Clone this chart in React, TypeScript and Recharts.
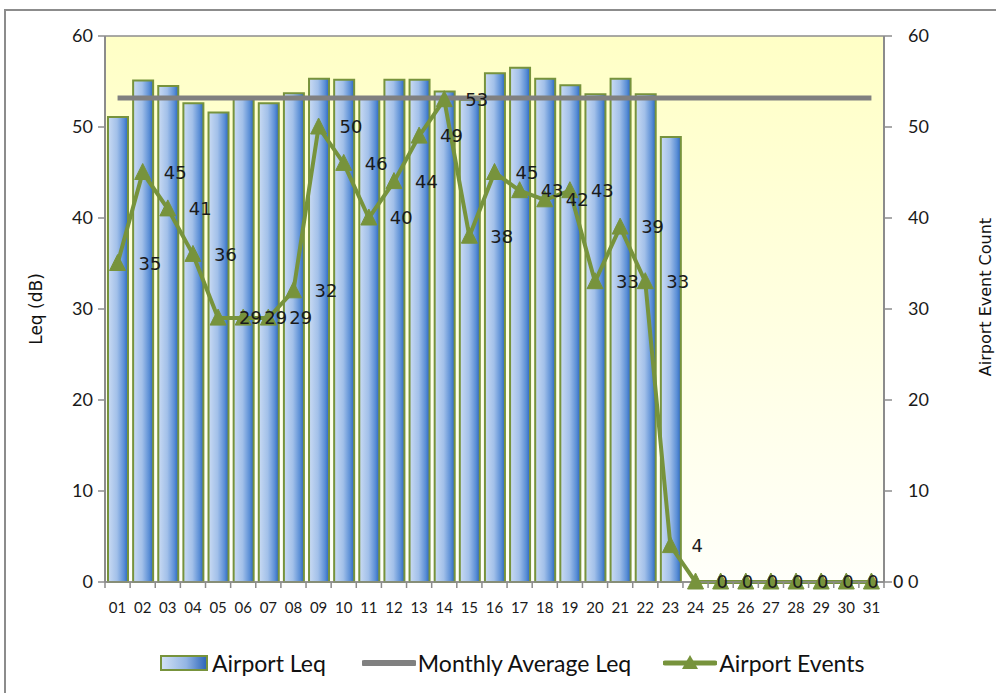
import React from 'react'
import { Bar, CartesianGrid, ComposedChart, LabelList, Line, XAxis, YAxis } from 'recharts'

const days = [
  '01', '02', '03', '04', '05', '06', '07', '08', '09', '10', '11', '12', '13', '14', '15', '16',
  '17', '18', '19', '20', '21', '22', '23', '24', '25', '26', '27', '28', '29', '30', '31',
]
const airportLeq: (number | null)[] = [
  51.1, 55.1, 54.5, 52.6, 51.6, 53.3, 52.6, 53.7, 55.3, 55.2, 53.1, 55.2, 55.2, 53.9, 53.0, 55.9,
  56.5, 55.3, 54.6, 53.6, 55.3, 53.6, 48.9, null, null, null, null, null, null, null, null,
]
const airportEvents = [
  35, 45, 41, 36, 29, 29, 29, 32, 50, 46, 40, 44, 49, 53, 38, 45, 43, 42, 43, 33, 39, 33, 4,
  0, 0, 0, 0, 0, 0, 0, 0,
]
const monthlyAverageLeq = 53.2
const axisTicks = [0, 10, 20, 30, 40, 50, 60]

const rows = days.map((day, i) => ({
  day,
  leq: airportLeq[i],
  avg: monthlyAverageLeq,
  events: airportEvents[i],
}))

const GREEN = '#77933C'
const GREY = '#8c8c8c'
const calibriLike = 'Lato, "Open Sans", sans-serif'
const verdanaLike = '"DejaVu Sans", Verdana, sans-serif'

const Triangle = (props: any) => {
  const { cx, cy, index } = props
  if (cx == null || cy == null) return <g key={index} />
  return (
    <polygon
      key={index}
      points={`${cx},${cy - 9} ${cx - 8},${cy + 7} ${cx + 8},${cy + 7}`}
      fill={GREEN}
      stroke={GREEN}
      strokeWidth={1}
    />
  )
}

const DayTick = (props: any) => {
  const { x, payload, index } = props
  const half = 779 / 31 / 2
  return (
    <g>
      <line x1={x - half} x2={x - half} y1={582} y2={588} stroke={GREY} strokeWidth={1.5} />
      {index === days.length - 1 && (
        <line x1={x + half} x2={x + half} y1={582} y2={588} stroke={GREY} strokeWidth={1.5} />
      )}
      <text x={x} y={613} textAnchor="middle" fontSize={15} fontFamily={calibriLike} fill="#1a1a1a">
        {payload.value}
      </text>
    </g>
  )
}

function LegendRow() {
  const text: React.CSSProperties = { fontFamily: calibriLike, fontSize: 23, color: '#111', marginLeft: 4 }
  return (
    <div style={{ position: 'absolute', top: 650, left: 160, display: 'flex', alignItems: 'center', height: 26 }}>
      <svg width={48} height={16}>
        <rect x={1} y={1} width={46} height={14} fill="url(#legendBar)" stroke={GREEN} strokeWidth={2} />
        <defs>
          <linearGradient id="legendBar" x1="0" y1="0" x2="1" y2="0">
            <stop offset="0%" stopColor="#d3e2f6" />
            <stop offset="55%" stopColor="#93b5e4" />
            <stop offset="100%" stopColor="#2a63b8" />
          </linearGradient>
        </defs>
      </svg>
      <span style={text}>Airport Leq</span>
      <svg width={54} height={18} style={{ marginLeft: 36 }}>
        <line x1={2} x2={52} y1={9} y2={9} stroke="#808080" strokeWidth={6} strokeLinecap="round" />
      </svg>
      <span style={{ ...text, marginLeft: 2 }}>Monthly Average Leq</span>
      <svg width={54} height={18} style={{ marginLeft: 32 }}>
        <line x1={2} x2={52} y1={9} y2={9} stroke={GREEN} strokeWidth={5} strokeLinecap="round" />
        <polygon points="27,1 19,15 35,15" fill={GREEN} />
      </svg>
      <span style={{ ...text, marginLeft: 2 }}>Airport Events</span>
    </div>
  )
}

export default function App() {
  return (
    <div style={{ position: 'absolute', left: 0, top: 0, width: 996, height: 693, overflow: 'hidden', background: '#fff' }}>
      <div
        style={{
          position: 'absolute',
          left: 4,
          top: 9,
          width: 1000,
          height: 700,
          borderTop: `2px solid ${GREY}`,
          borderLeft: `2px solid ${GREY}`,
        }}
      />
      <ComposedChart
        width={996}
        height={693}
        data={rows}
        margin={{ top: 36, right: 12, left: 45, bottom: 71 }}
        barCategoryGap={0}
        style={{ position: 'absolute', left: 0, top: 0 }}
      >
        <defs>
          <linearGradient id="plotBg" x1="0" y1="0" x2="0" y2="1">
            <stop offset="0%" stopColor="#ffffc6" />
            <stop offset="100%" stopColor="#fffffa" />
          </linearGradient>
          <linearGradient id="barGrad" x1="0" y1="0" x2="1" y2="0">
            <stop offset="0%" stopColor="#cadbf3" />
            <stop offset="45%" stopColor="#a2c0e9" />
            <stop offset="80%" stopColor="#5b8fd6" />
            <stop offset="100%" stopColor="#2b66bf" />
          </linearGradient>
        </defs>
        <CartesianGrid vertical={false} stroke={GREY} strokeWidth={1.5} fill="url(#plotBg)" fillOpacity={1} />
        <XAxis
          dataKey="day"
          height={40}
          interval={0}
          tickLine={false}
          axisLine={{ stroke: GREY, strokeWidth: 1.5 }}
          tick={<DayTick />}
        />
        <YAxis
          yAxisId="left"
          width={60}
          domain={[0, 60]}
          ticks={axisTicks}
          interval={0}
          axisLine={{ stroke: GREY, strokeWidth: 2 }}
          tickLine={{ stroke: GREY, strokeWidth: 1.5 }}
          tickSize={7}
          tickMargin={5}
          tick={{ fontFamily: calibriLike, fontSize: 18, fill: '#1a1a1a' }}
          label={(p: any) => {
            const vb = p.viewBox
            const cy = vb.y + vb.height / 2
            return (
              <text
                x={42}
                y={cy}
                transform={`rotate(-90 42 ${cy})`}
                textAnchor="middle"
                fontFamily={verdanaLike}
                fontSize={17}
                fill="#111"
              >
                Leq (dB)
              </text>
            )
          }}
        />
        <YAxis
          yAxisId="right"
          orientation="right"
          width={100}
          domain={[0, 60]}
          ticks={axisTicks}
          interval={0}
          axisLine={{ stroke: GREY, strokeWidth: 2 }}
          tickLine={{ stroke: GREY, strokeWidth: 1.5 }}
          tickSize={8}
          tickMargin={16}
          tick={{ fontFamily: calibriLike, fontSize: 18, fill: '#1a1a1a' }}
          label={(p: any) => {
            const vb = p.viewBox
            const cy = vb.y + vb.height / 2 - 12
            return (
              <text
                x={991}
                y={cy}
                transform={`rotate(-90 991 ${cy})`}
                textAnchor="middle"
                fontFamily={verdanaLike}
                fontSize={16}
                fill="#111"
              >
                Airport Event Count
              </text>
            )
          }}
        />
        <Bar
          yAxisId="left"
          dataKey="leq"
          barSize={20}
          fill="url(#barGrad)"
          stroke={GREEN}
          strokeWidth={2}
          isAnimationActive={false}
        />
        <Line
          yAxisId="left"
          dataKey="avg"
          stroke="#808080"
          strokeWidth={5}
          dot={false}
          activeDot={false}
          isAnimationActive={false}
        />
        <Line
          yAxisId="right"
          dataKey="events"
          stroke={GREEN}
          strokeWidth={4}
          dot={<Triangle />}
          activeDot={false}
          isAnimationActive={false}
        >
          <LabelList
            dataKey="events"
            position="right"
            offset={21}
            style={{ fontFamily: verdanaLike, fontSize: 18, fill: '#1a1a1a' }}
          />
        </Line>
      </ComposedChart>
      <LegendRow />
    </div>
  )
}
